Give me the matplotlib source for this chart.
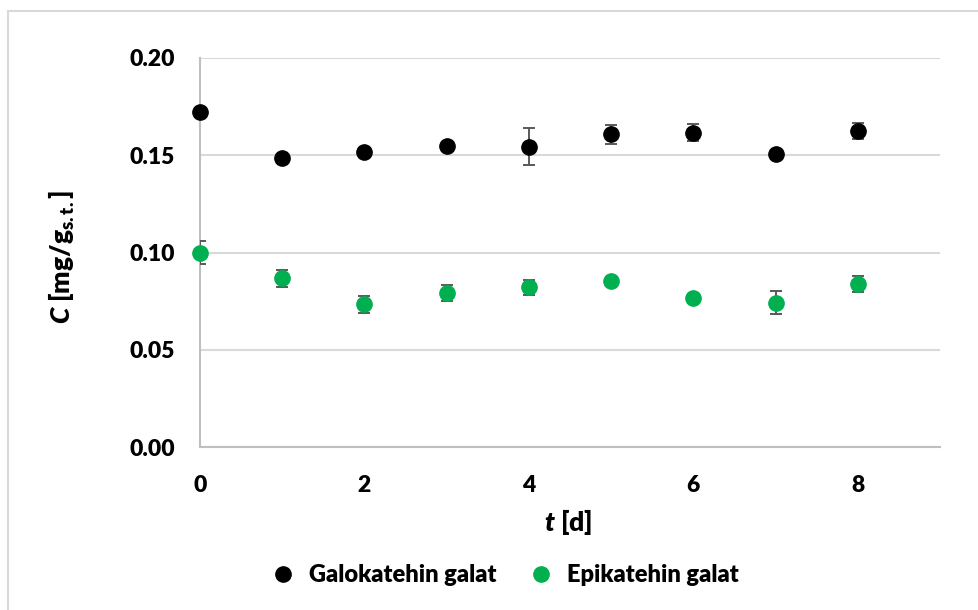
import matplotlib
matplotlib.use("Agg")
import matplotlib.pyplot as plt
from matplotlib.lines import Line2D
from matplotlib.patches import Rectangle

plt.rcParams["font.family"] = ["Lato", "DejaVu Sans"]
plt.rcParams["font.weight"] = "heavy"
plt.rcParams["mathtext.fontset"] = "custom"
plt.rcParams["mathtext.it"] = "Lato:italic:heavy"
plt.rcParams["mathtext.rm"] = "Lato:heavy"
plt.rcParams["mathtext.bf"] = "Lato:heavy"

# Sampling days
days = [0, 1, 2, 3, 4, 5, 6, 7, 8]

# Gallocatechin gallate: mean and standard deviation (mg/g dry matter)
galo_mean = [0.1721, 0.1484, 0.1515, 0.1549, 0.1544, 0.1608, 0.1616, 0.1506, 0.1625]
galo_sd = [0.0010, 0.0010, 0.0020, 0.0010, 0.0094, 0.0050, 0.0045, 0.0010, 0.0042]

# Epicatechin gallate: mean and standard deviation (mg/g dry matter)
epi_mean = [0.0999, 0.0867, 0.0734, 0.0793, 0.0821, 0.0852, 0.0764, 0.0742, 0.0838]
epi_sd = [0.0058, 0.0043, 0.0044, 0.0042, 0.0038, 0.0012, 0.0012, 0.0059, 0.0041]

series_names = ["Galokatehin galat", "Epikatehin galat"]
series_colors = ["#000000", "#00B050"]

W, H = 979, 610
fig = plt.figure(figsize=(W / 100, H / 100), dpi=100)
ax = fig.add_axes([200 / W, 1 - 447 / H, 740 / W, 389 / H])

# Light chart-area frame
fig.add_artist(Rectangle((8.5 / W, -0.1), 1.2, 1 - 10.5 / H + 0.1,
                         transform=fig.transFigure, fill=False,
                         edgecolor="#d9d9d9", linewidth=1.5))

for mean, sd, col in [(galo_mean, galo_sd, series_colors[0]),
                      (epi_mean, epi_sd, series_colors[1])]:
    ax.errorbar(days, mean, yerr=sd, fmt="none", ecolor="#595959",
                elinewidth=1.4, capsize=4.5, capthick=1.4, zorder=3)
    ax.plot(days, mean, "o", color=col, markersize=11, linestyle="none",
            zorder=4, clip_on=False)

ax.set_xlim(0, 9)
ax.set_ylim(0, 0.20)
ax.set_xticks([0, 2, 4, 6, 8])
ax.set_yticks([0.00, 0.05, 0.10, 0.15, 0.20])
ax.set_yticklabels([f"{v:.2f}" for v in [0.00, 0.05, 0.10, 0.15, 0.20]])
ax.tick_params(axis="both", length=0, labelsize=16.5)
ax.tick_params(axis="y", pad=18)
ax.tick_params(axis="x", pad=20)
for lbl in ax.get_xticklabels() + ax.get_yticklabels():
    lbl.set_fontweight("heavy")

ax.grid(axis="y", color="#d9d9d9", linewidth=1.5)
ax.set_axisbelow(True)
for side in ["top", "right"]:
    ax.spines[side].set_visible(False)
for side in ["left", "bottom"]:
    ax.spines[side].set_color("#bfbfbf")
    ax.spines[side].set_linewidth(1.5)

fig.text(568 / W, 1 - 522 / H, r"$t$ [d]", ha="center", va="center",
         fontsize=19, fontweight="heavy")
fig.text(62 / W, 1 - 257 / H, r"$C$ [mg/$\mathrm{g}_{\mathrm{s.t.}}$]",
         ha="center", va="center", rotation=90, fontsize=19,
         fontweight="heavy")

handles = [Line2D([], [], marker="o", color=c, linestyle="none", markersize=11)
           for c in series_colors]
fig.legend(handles, series_names, loc="center", bbox_to_anchor=(499 / W, 1 - 575 / H),
           ncol=2, frameon=False, handletextpad=0.1, columnspacing=0.9,
           prop={"weight": "heavy", "size": 17})

fig.savefig("out.png", dpi=100)
